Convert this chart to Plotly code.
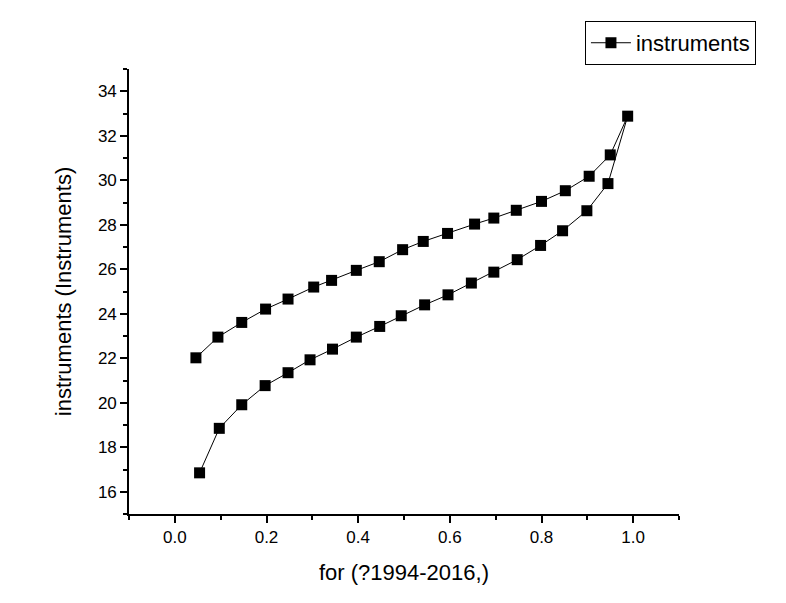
import plotly.graph_objects as go

# Lower branch (increasing), then upper branch (returning)
x_lower = [0.054, 0.097, 0.146, 0.197, 0.247, 0.295, 0.344, 0.396, 0.447, 0.494,
           0.545, 0.596, 0.647, 0.696, 0.747, 0.798, 0.846, 0.899, 0.945]
y_lower = [16.85, 18.85, 19.91, 20.77, 21.35, 21.93, 22.41, 22.95, 23.43, 23.91,
           24.40, 24.85, 25.38, 25.87, 26.43, 27.07, 27.73, 28.63, 29.85]
x_peak = [0.988]
y_peak = [32.88]
x_upper = [0.950, 0.904, 0.852, 0.800, 0.745, 0.696, 0.654, 0.595, 0.542, 0.497,
           0.446, 0.396, 0.342, 0.303, 0.247, 0.198, 0.146, 0.094, 0.046]
y_upper = [31.14, 30.18, 29.53, 29.05, 28.65, 28.30, 28.03, 27.61, 27.25, 26.88,
           26.34, 25.95, 25.50, 25.20, 24.66, 24.21, 23.61, 22.95, 22.02]

x_all = x_lower + x_peak + x_upper
y_all = y_lower + y_peak + y_upper

FONT = "Liberation Sans, Arial, sans-serif"

fig = go.Figure()
fig.add_trace(go.Scatter(
    x=x_all, y=y_all, mode="lines+markers", name="instruments",
    line=dict(color="black", width=1),
    marker=dict(symbol="square", size=11, color="black"),
))

axis_common = dict(
    showgrid=False, zeroline=False, showline=True, linecolor="black", linewidth=1.6,
    ticks="outside", ticklen=7, tickwidth=1.6, tickcolor="black",
    tickfont=dict(family=FONT, size=17, color="black"),
    mirror=False,
)

fig.update_layout(
    width=786, height=603,
    margin=dict(l=121, r=115, t=61, b=97),
    paper_bgcolor="white", plot_bgcolor="white",
    font=dict(family=FONT, color="black"),
    showlegend=True,
    legend=dict(
        x=0.829, y=1.108, xanchor="left", yanchor="top",
        bordercolor="black", borderwidth=1, bgcolor="white",
        font=dict(family=FONT, size=22, color="black"),
        itemwidth=40, tracegroupgap=0,
    ),
    xaxis=dict(
        range=[-0.1, 1.1], tick0=0, dtick=0.2, tickformat=".1f",
        minor=dict(ticks="outside", dtick=0.1, tick0=0, ticklen=4, tickwidth=1.6, tickcolor="black"),
        title=dict(text="for (?1994-2016,)", font=dict(family=FONT, size=22, color="black"), standoff=18),
        **axis_common,
    ),
    yaxis=dict(
        range=[15, 35], tick0=16, dtick=2,
        minor=dict(ticks="outside", dtick=1, tick0=15, ticklen=4, tickwidth=1.6, tickcolor="black"),
        title=dict(text="instruments (Instruments)", font=dict(family=FONT, size=22, color="black"), standoff=20),
        **axis_common,
    ),
)

fig.write_html("out.html")
